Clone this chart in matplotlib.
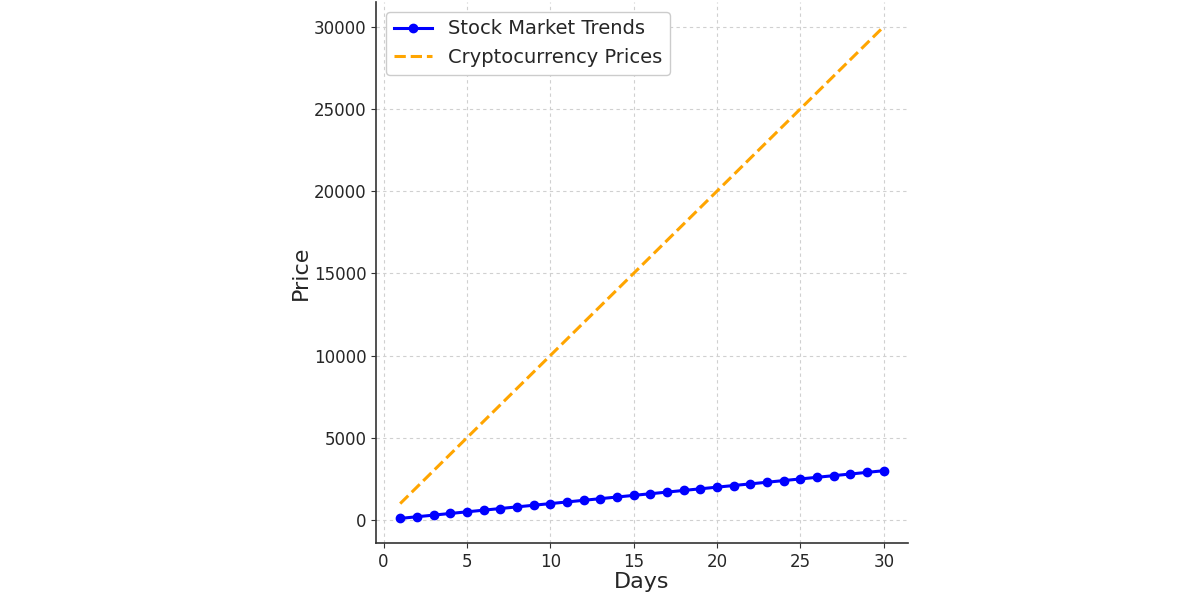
import matplotlib
matplotlib.use("Agg")
import matplotlib.pyplot as plt

days = [1, 2, 3, 4, 5, 6, 7, 8, 9, 10, 11, 12, 13, 14, 15,
        16, 17, 18, 19, 20, 21, 22, 23, 24, 25, 26, 27, 28, 29, 30]
stock = [100, 200, 300, 400, 500, 600, 700, 800, 900, 1000,
         1100, 1200, 1300, 1400, 1500, 1600, 1700, 1800, 1900, 2000,
         2100, 2200, 2300, 2400, 2500, 2600, 2700, 2800, 2900, 3000]
crypto = [1000, 2000, 3000, 4000, 5000, 6000, 7000, 8000, 9000, 10000,
          11000, 12000, 13000, 14000, 15000, 16000, 17000, 18000, 19000, 20000,
          21000, 22000, 23000, 24000, 25000, 26000, 27000, 28000, 29000, 30000]

fig = plt.figure(figsize=(12, 6), dpi=100)
ax = fig.add_axes([376/1200, 57/600, (908-376)/1200, (543-2)/600])

ax.plot(days, stock, color="blue", marker="o", markersize=6, linewidth=2.2,
        label="Stock Market Trends")
ax.plot(days, crypto, color="orange", linestyle="--", linewidth=2.2,
        label="Cryptocurrency Prices")

ax.set_xticks([0, 5, 10, 15, 20, 25, 30])
ax.set_yticks([0, 5000, 10000, 15000, 20000, 25000, 30000])
ax.grid(True, linestyle=(0, (3, 3)), color="#d0d0d0", linewidth=0.8)
ax.spines["top"].set_visible(False)
ax.spines["right"].set_visible(False)
for s in ("left", "bottom"):
    ax.spines[s].set_color("#333333")
    ax.spines[s].set_linewidth(1.2)
ax.tick_params(labelsize=12, colors="#333333", labelcolor="#262626")
ax.set_xlabel("Days", fontsize=16, color="#262626", labelpad=1)
ax.set_ylabel("Price", fontsize=16, color="#262626", labelpad=2)
ax.legend(loc="upper left", fontsize=14, framealpha=1.0, edgecolor="#cccccc",
          labelcolor="#262626", borderaxespad=0.5)

fig.savefig("out.png", dpi=100)
